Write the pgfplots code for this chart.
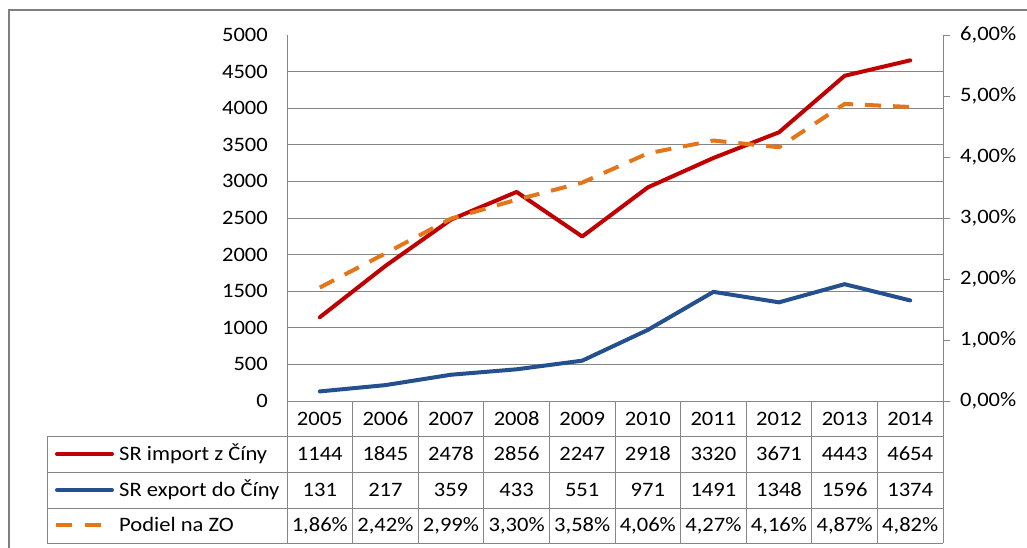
\documentclass[border=0pt]{standalone}
\usepackage{pgfplots}
\pgfplotsset{compat=1.18}
\usepackage{fontspec}
\setmainfont{Carlito}[FakeStretch=1.1]
\definecolor{gridgray}{HTML}{868686}
\definecolor{framegray}{HTML}{7F7F7F}
\definecolor{impred}{HTML}{C00000}
\definecolor{expblue}{HTML}{24508E}
\definecolor{podorange}{HTML}{E4761A}
\newcommand\cf{\fontsize{20.5}{24}\selectfont}
\begin{document}
\begin{tikzpicture}[x=1pt,y=1pt]
\useasboundingbox (0,0) rectangle (1027,547);
\fill[white] (0,0) rectangle (1027,547);
% left axis
\begin{axis}[
  at={(287pt,146pt)}, anchor=south west, scale only axis,
  width=656pt, height=366pt,
  xmin=-0.5, xmax=9.5, ymin=0, ymax=5000,
  axis y line*=left, axis x line*=bottom,
  axis line style={gridgray, line width=1pt, -},
  xtick={0,...,9},
  xticklabels={2005,2006,2007,2008,2009,2010,2011,2012,2013,2014},
  ytick={0,500,...,5000},
  yticklabels={0,500,1000,1500,2000,2500,3000,3500,4000,4500,5000},
  major tick length=0pt,
  extra y ticks={500,1000,...,4500},
  extra y tick labels={},
  extra y tick style={grid=major},
  major grid style={gridgray, line width=1pt},
  xticklabel style={font=\cf, anchor=base, inner sep=0pt, yshift=-24.5pt},
  yticklabel style={font=\cf, anchor=east, inner sep=0pt, xshift=-19pt},
  clip=false,
]
\addplot[impred, line width=4pt, line join=round, line cap=round]
  coordinates {(0,1144)(1,1845)(2,2478)(3,2856)(4,2247)(5,2918)(6,3320)(7,3671)(8,4443)(9,4654)};
\addplot[expblue, line width=4pt, line join=round, line cap=round]
  coordinates {(0,131)(1,217)(2,359)(3,433)(4,551)(5,971)(6,1491)(7,1348)(8,1596)(9,1374)};
\end{axis}
% right axis
\begin{axis}[
  at={(287pt,146pt)}, anchor=south west, scale only axis,
  width=656pt, height=366pt,
  xmin=-0.5, xmax=9.5, ymin=0, ymax=6,
  axis y line*=right, axis x line=none,
  axis line style={gridgray, line width=1pt, -},
  ytick={0,...,6},
  yticklabels={{0,00\%},{1,00\%},{2,00\%},{3,00\%},{4,00\%},{5,00\%},{6,00\%}},
  tick align=outside, major tick length=7pt,
  tick style={gridgray, line width=1pt},
  yticklabel style={font=\cf, anchor=west, inner sep=0pt, xshift=10pt},
  clip=false,
]
\addplot[podorange, line width=4pt, dash pattern=on 16pt off 12pt]
  coordinates {(0,1.86)(1,2.42)(2,2.99)(3,3.30)(4,3.58)(5,4.06)(6,4.27)(7,4.16)(8,4.87)(9,4.82)};
\end{axis}
% data table
\begin{scope}[gridgray, line width=1pt]
  \draw (47,111) -- (943,111);
  \draw (47,75) -- (943,75);
  \draw (47,39) -- (943,39);
  \draw (47,4) -- (943,4);
  \draw (47,111) -- (47,4);
  \foreach \k in {0,...,10} {
    \draw ({287+65.6*\k},146) -- ({287+65.6*\k},4);
  }
\end{scope}
% legend keys and names
\draw[impred, line width=4pt, line cap=round] (57,93) -- (112,93);
\draw[expblue, line width=4pt, line cap=round] (57,57) -- (112,57);
\draw[podorange, line width=4pt] (56,22) -- (104,22) [dash pattern=on 16pt off 13pt];
\node[font=\cf, anchor=base west, inner sep=0pt] at (119,86.5) {SR import z Číny};
\node[font=\cf, anchor=base west, inner sep=0pt] at (119,50.5) {SR export do Číny};
\node[font=\cf, anchor=base west, inner sep=0pt] at (119,15.5) {Podiel na ZO};
% table values
\foreach \v [count=\i from 0] in {1144,1845,2478,2856,2247,2918,3320,3671,4443,4654} {
  \node[font=\cf, anchor=base, inner sep=0pt] at ({287+65.6*(\i+0.5)},86.5) {\v};
}
\foreach \v [count=\i from 0] in {131,217,359,433,551,971,1491,1348,1596,1374} {
  \node[font=\cf, anchor=base, inner sep=0pt] at ({287+65.6*(\i+0.5)},50.5) {\v};
}
\foreach \v [count=\i from 0] in {{1,86\%},{2,42\%},{2,99\%},{3,30\%},{3,58\%},{4,06\%},{4,27\%},{4,16\%},{4,87\%},{4,82\%}} {
  \node[font=\cf, anchor=base, inner sep=0pt] at ({287+65.6*(\i+0.5)},15.5) {\v};
}
% outer frame
\begin{scope}
  \clip (0,0) rectangle (1027,547);
  \draw[framegray, line width=2.5pt] (9,-10) -- (9,537) -- (1040,537);
\end{scope}
\end{tikzpicture}
\end{document}
